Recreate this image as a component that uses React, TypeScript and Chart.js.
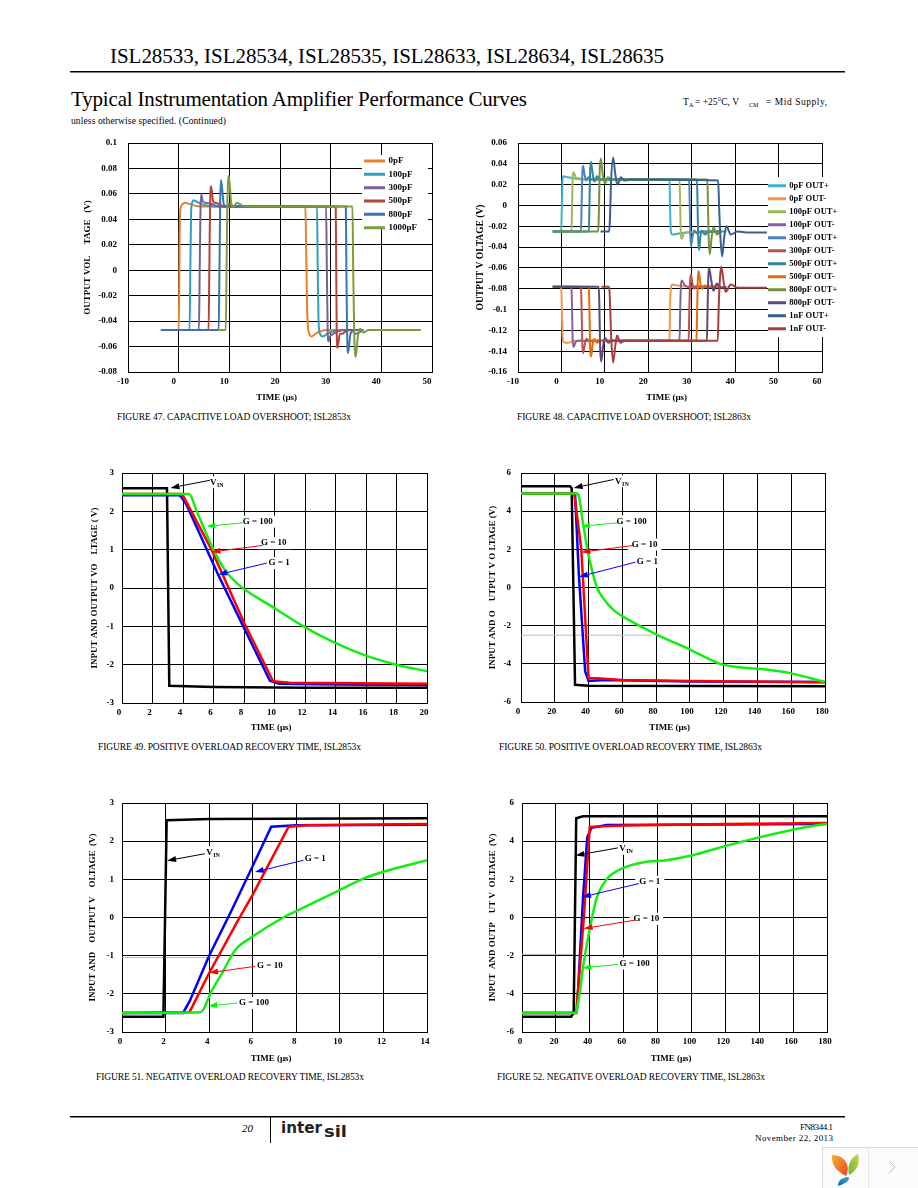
import React, { useEffect, useRef } from "react";
import { Chart, registerables } from "chart.js";

Chart.register(...registerables);

const SERIF = '"Liberation Serif", "Times New Roman", serif';

// ---------- Figure 47 ----------
const f47_0pF = [[-3.5,-.047],[0,-.047],[.1,-.02],[.2,.03],[.4,.049],[.8,.052],[1.2,.053],[2.2,.052],[3.5,.0505],[5,.05],[25,.05],[25.15,.02],[25.35,-.03],[25.7,-.049],[26.2,-.052],[27,-.05],[28,-.048],[29.5,-.047],[36,-.047]];
const f47_100pF = [[-3.5,-.047],[2.15,-.047],[2.3,0],[2.45,.045],[2.65,.053],[2.9,.055],[3.5,.054],[4.5,.052],[6,.0505],[8,.05],[27.3,.05],[27.45,0],[27.6,-.04],[27.9,-.05],[28.5,-.052],[29.3,-.05],[30.5,-.048],[32,-.047],[36,-.047]];
const f47_300pF = [[-3.5,-.047],[4,-.047],[4.15,0],[4.3,.045],[4.45,.06],[4.75,.054],[5.3,.053],[6.5,.052],[8,.05],[29.1,.05],[29.25,0],[29.4,-.045],[29.55,-.056],[29.9,-.052],[30.5,-.05],[31.5,-.048],[33,-.047],[36,-.047]];
const f47_500pF = [[-3.5,-.047],[5.9,-.047],[6.05,0],[6.2,.05],[6.4,.066],[6.8,.054],[7.2,.053],[8,.052],[9,.05],[31,.05],[31.1,0],[31.2,-.05],[31.35,-.061],[31.8,-.05],[32.2,-.05],[33,-.048],[34,-.047],[36.5,-.047]];
const f47_800pF = [[-3.5,-.047],[7.9,-.047],[8.05,0],[8.2,.055],[8.35,.071],[8.9,.052],[9.3,.05],[10,.052],[11,.05],[33,.05],[33.1,0],[33.25,-.05],[33.45,-.065],[33.9,-.05],[34.4,-.048],[35,-.05],[36,-.048],[36.5,-.047]];
const f47_1000pF = [[7.8,-.047],[9.3,-.047],[9.45,0],[9.6,.05],[9.9,.074],[10.4,.052],[10.8,.05],[11.5,.053],[12.5,.051],[14,.05],[34.3,.05],[34.45,0],[34.65,-.05],[34.95,-.068],[35.4,-.051],[35.8,-.046],[36.5,-.049],[37.5,-.047],[47.8,-.047]];

// ---------- Figure 48 ----------
const f48_0pFp = [[-2,-.025],[-.05,-.025],[.1,0],[.25,.025],[.5,.028],[1.5,.027],[3,.026],[5,.025],[24.9,.025],[25,0],[25.2,-.025],[25.5,-.028],[27,-.027],[29,-.026],[36,-.025]];
const f48_0pFm = [[-2,-.078],[-.05,-.078],[.1,-.1],[.25,-.125],[.5,-.131],[1.5,-.132],[3,-.13],[24.9,-.13],[25,-.1],[25.2,-.08],[25.5,-.076],[27,-.077],[29,-.078],[36,-.078]];
const f48_100pFp = [[-2,-.025],[2.3,-.025],[2.45,0],[2.6,.028],[2.8,.032],[3.3,.027],[4,.026],[6,.025],[27.2,.025],[27.35,0],[27.5,-.028],[27.7,-.032],[28.2,-.027],[29,-.026],[36,-.025]];
const f48_100pFm = [[-2,-.078],[2.3,-.078],[2.45,-.1],[2.6,-.13],[2.8,-.136],[3.3,-.131],[4,-.13],[27.2,-.13],[27.35,-.1],[27.5,-.078],[27.7,-.072],[28.3,-.076],[29,-.078],[36,-.078]];
const f48_300pFp = [[-2,-.025],[4.5,-.025],[4.65,0],[4.8,.03],[5,.038],[5.3,.03],[5.7,.024],[6.2,.027],[7,.025],[29.4,.025],[29.55,0],[29.7,-.03],[29.85,-.039],[30.2,-.03],[30.6,-.024],[31.2,-.027],[32,-.025],[36.5,-.025]];
const f48_300pFm = [[-2,-.078],[4.5,-.078],[4.65,-.1],[4.8,-.132],[5,-.142],[5.4,-.133],[5.8,-.128],[6.4,-.131],[7,-.13],[29.3,-.13],[29.45,-.1],[29.6,-.075],[29.8,-.066],[30.2,-.076],[30.6,-.08],[31.2,-.077],[32,-.078],[36.5,-.078]];
const f48_500pFp = [[-2,-.025],[6.3,-.025],[6.45,0],[6.6,.032],[6.8,.042],[7.2,.03],[7.6,.023],[8.2,.028],[9,.025],[31.2,.025],[31.35,0],[31.5,-.032],[31.7,-.043],[32,-.03],[32.4,-.024],[33,-.028],[34,-.025],[37,-.025]];
const f48_500pFm = [[-2,-.078],[6.3,-.078],[6.45,-.1],[6.6,-.135],[6.85,-.145],[7.2,-.133],[7.5,-.128],[8.2,-.132],[9,-.13],[31.1,-.13],[31.25,-.1],[31.4,-.072],[31.6,-.063],[32,-.075],[32.4,-.08],[33,-.077],[34,-.078],[37,-.078]];
const f48_800pFp = [[-2,-.025],[8.5,-.025],[8.65,0],[8.8,.032],[9.05,.045],[9.5,.03],[10,.021],[10.7,.027],[11.5,.025],[33.6,.025],[33.75,0],[33.9,-.03],[34.15,-.047],[34.6,-.03],[35,-.021],[35.8,-.028],[36.6,-.025],[38,-.025]];
const f48_800pFm = [[-2,-.078],[8.6,-.078],[8.75,-.1],[8.9,-.135],[9.15,-.15],[9.6,-.135],[10,-.127],[10.8,-.132],[11.5,-.13],[33.5,-.13],[33.65,-.1],[33.8,-.07],[34,-.06],[34.5,-.072],[35,-.082],[35.8,-.075],[36.6,-.079],[38,-.078]];
const f48_1nFp = [[9,-.025],[11,-.025],[11.2,-.01],[11.4,.02],[11.9,.046],[12.4,.03],[12.9,.02],[13.7,.027],[14.5,.024],[16,.025],[36.1,.024],[36.3,0],[36.6,-.03],[37,-.049],[37.5,-.03],[38,-.02],[39,-.028],[40.5,-.025],[43,-.026],[47.3,-.026]];
const f48_1nFm = [[9.2,-.078],[11,-.078],[11.2,-.095],[11.5,-.13],[11.9,-.151],[12.4,-.135],[12.8,-.125],[13.6,-.132],[14.5,-.13],[36,-.13],[36.2,-.1],[36.5,-.07],[36.8,-.059],[37.3,-.072],[37.8,-.083],[39,-.076],[40.5,-.079],[47.3,-.079]];

// ---------- Figure 49 ----------
const f49_vin = [[0,2.6],[2.95,2.6],[3.1,-2.55],[6,-2.58],[12,-2.6],[20,-2.6]];
const f49_g1 = [[0,2.42],[3.8,2.42],[4.2,2.2],[6.3,.35],[7.95,-1],[9.7,-2.42],[10.3,-2.5],[14,-2.52],[20,-2.53]];
const f49_g10 = [[0,2.45],[3.95,2.45],[5.87,1],[8,-.9],[9.9,-2.43],[11,-2.47],[20,-2.5]];
const f49_g100 = [[0,2.45],[4.4,2.45],[4.9,2],[6,1],[6.7,.5],[7.6,.1],[9.9,-.5],[11.9,-1],[13.8,-1.4],[15.9,-1.75],[18,-2],[20,-2.17]];

// ---------- Figure 50 ----------
const f50_vin = [[0,5.3],[29,5.3],[30,5.2],[32,-5.1],[40,-5.15],[180,-5.17]];
const f50_g1 = [[0,4.92],[32,4.92],[34.3,.6],[38,-4.4],[40,-4.9],[50,-4.85],[100,-4.92],[180,-4.95]];
const f50_g10 = [[0,4.92],[31.5,4.92],[35.7,2],[40,-4.75],[45,-4.75],[60,-4.85],[100,-4.9],[180,-4.97]];
const f50_g100 = [[0,4.92],[33,4.92],[34,4.85],[37,3.2],[40,1.7],[45,0],[49,-.6],[55,-1.2],[60,-1.5],[70,-2],[80,-2.45],[100,-3.25],[118,-4],[128,-4.17],[145,-4.3],[160,-4.5],[180,-4.95]];
const f50_guide = [[0,-2.5],[78,-2.5]];

// ---------- Figure 51 ----------
const f51_vin = [[0,-2.6],[1.9,-2.6],[2.05,2.55],[4,2.58],[14,2.6]];
const f51_g1 = [[0,-2.5],[2.8,-2.5],[3.1,-2.2],[4,-1],[5,.15],[6,1.35],[6.85,2.38],[8,2.42],[14,2.43]];
const f51_g10 = [[0,-2.5],[3.1,-2.48],[3.96,-1.5],[5.3,-.1],[6,.6],[7.65,2.38],[8.5,2.42],[14,2.45]];
const f51_g100 = [[0,-2.5],[3.6,-2.48],[3.75,-2.4],[4.05,-2],[4.6,-1.45],[5.2,-.85],[6,-.5],[7.4,0],[8,.17],[10,.72],[11,1],[12,1.2],[14,1.5]];
const f51_guide = [[0,-1.05],[4.5,-1.05]];

// ---------- Figure 52 ----------
const f52_vin = [[0,-5.2],[29,-5.2],[30.5,-5],[32,5.2],[36,5.3],[180,5.3]];
const f52_g1 = [[0,-5],[31,-5],[32.5,-4.8],[36,1],[38.5,4.2],[41,4.7],[50,4.85],[180,4.9]];
const f52_g10 = [[0,-5],[32,-5],[36.5,0],[40,4.75],[60,4.82],[120,4.9],[180,4.95]];
const f52_g100 = [[0,-5],[31,-5],[32,-4.9],[34,-4],[36,-2.6],[40,-.6],[44,1],[50,2],[60,2.6],[72,2.9],[85,3],[100,3.25],[120,3.75],[140,4.2],[160,4.6],[180,4.92]];
const f52_guide = [[0,-1.93],[30,-1.93]];

const BLACK = "#000000", BLUE = "#0000FF", RED = "#FF0000", GREEN = "#11EE11", GUIDE = "#BBBBBB";

const note = (text, sub, tx, ty, ax, ay, tipx, tipy, color) => ({ text, sub, tx, ty, ax, ay, tipx, tipy, color });

const overload = (vin, g1, g10, g100, guide?) => [
  ...(guide ? [{ label: "Guide", data: guide, color: GUIDE, width: 1 }] : []),
  { label: "VIN", data: vin, color: BLACK, width: 2.5 },
  { label: "G = 1", data: g1, color: BLUE, width: 2.5 },
  { label: "G = 10", data: g10, color: RED, width: 2.5 },
  { label: "G = 100", data: g100, color: GREEN, width: 2.5, smooth: true },
];

const cap = (label, data, color) => ({ label, data, color, width: 2, smooth: true });

const FIGURES = [
  {
    L: 128, R: 432, T: 143, B: 372, yw: 46, yPad: 11, xh: 31, xShift: -5, rp: 12, yFont: 9,
    x: [-10, 50, 10], y: [-0.08, 0.1, 0.02],
    yTitle: "OUTPUT VOL     TAGE   (V)",
    series: [
      cap("0pF", f47_0pF, "#E8812F"),
      cap("100pF", f47_100pF, "#31A0B8"),
      cap("300pF", f47_300pF, "#7B5EA0"),
      cap("500pF", f47_500pF, "#B5443F"),
      cap("800pF", f47_800pF, "#3B73B5"),
      cap("1000pF", f47_1000pF, "#7D9C3D"),
    ],
    legend: { x: 365, y: 161, rowH: 13.33, lineW: 19, box: [362, 155, 66, 74], size: 9 },
    notes: [],
  },
  {
    L: 518, R: 822, T: 143, B: 372, yw: 43, yPad: 11, xh: 31, xShift: -5, rp: 24, yFont: 9.5,
    x: [-10, 60, 10], y: [-0.16, 0.06, 0.02],
    yTitle: "OUTPUT V OLTAGE (V)",
    series: [
      cap("0pF OUT+", f48_0pFp, "#3FAFCF"),
      cap("0pF OUT-", f48_0pFm, "#F79646"),
      cap("100pF OUT+", f48_100pFp, "#9BBB59"),
      cap("100pF OUT-", f48_100pFm, "#8064A2"),
      cap("300pF OUT+", f48_300pFp, "#4F81BD"),
      cap("300pF OUT-", f48_300pFm, "#C0504D"),
      cap("500pF OUT+", f48_500pFp, "#31859C"),
      cap("500pF OUT-", f48_500pFm, "#E46C0A"),
      cap("800pF OUT+", f48_800pFp, "#76923C"),
      cap("800pF OUT-", f48_800pFm, "#5F497A"),
      cap("1nF OUT+", f48_1nFp, "#366092"),
      cap("1nF OUT-", f48_1nFm, "#A5403D"),
    ],
    legend: { x: 769, y: 185.7, rowH: 13, lineW: 16, box: [768, 177, 70, 160], size: 8.5 },
    notes: [],
  },
  {
    L: 122, R: 427, T: 473, B: 703, yw: 33, yPad: 8, xh: 30, xShift: -3, rp: 12, yFont: 9,
    x: [0, 20, 2], y: [-3, 3, 1],
    yTitle: "INPUT AND OUTPUT VO    LTAGE ( V)",
    series: overload(f49_vin, f49_g1, f49_g10, f49_g100),
    notes: [
      note("V", "IN", 6.24, 2.76, 5.76, 2.81, 3.18, 2.61, BLACK),
      note("G = 100", "", 8.9, 1.73, 7.95, 1.7, 5.54, 1.61, GREEN),
      note("G = 10", "", 9.95, 1.17, 9.22, 1.11, 5.87, 0.94, RED),
      note("G = 1", "", 10.3, 0.65, 9.49, 0.65, 6.31, 0.35, BLUE),
    ],
  },
  {
    L: 521, R: 825, T: 473, B: 702, yw: 34, yPad: 10, xh: 31, xShift: -3, rp: 12, yFont: 9,
    x: [0, 180, 20], y: [-6, 6, 2],
    yTitle: "INPUT AND O    UTPUT V O LTAGE (V)",
    series: overload(f50_vin, f50_g1, f50_g10, f50_g100, f50_guide),
    notes: [
      note("V", "IN", 60, 5.57, 54.9, 5.66, 31.2, 5.22, BLACK),
      note("G = 100", "", 65.5, 3.46, 57.4, 3.39, 35.7, 3.21, GREEN),
      note("G = 10", "", 73.2, 2.25, 66.3, 2.2, 35.7, 1.85, RED),
      note("G = 1", "", 74.8, 1.34, 67.9, 1.33, 34.3, 0.56, BLUE),
    ],
  },
  {
    L: 122, R: 427, T: 803, B: 1032, yw: 35, yPad: 8, xh: 32, xShift: -2, rp: 12, yFont: 9,
    x: [0, 14, 2], y: [-3, 3, 1],
    yTitle: "INPUT AND    OUTPUT V    OLTAGE  (V)",
    series: overload(f51_vin, f51_g1, f51_g10, f51_g100, f51_guide),
    notes: [
      note("V", "IN", 4.2, 1.71, 3.8, 1.67, 2.07, 1.49, BLACK),
      note("G = 1", "", 8.87, 1.55, 8.33, 1.5, 6.1, 1.19, BLUE),
      note("G = 10", "", 6.79, -1.26, 6.1, -1.28, 4, -1.45, RED),
      note("G = 100", "", 6.06, -2.24, 5.29, -2.24, 3.96, -2.32, GREEN),
    ],
  },
  {
    L: 522, R: 827, T: 803, B: 1032, yw: 35, yPad: 8, xh: 32, xShift: -2, rp: 12, yFont: 9,
    x: [0, 180, 20], y: [-6, 6, 2],
    yTitle: "INPUT  AND OUTP    UT V  OLTAGE  (V)",
    series: overload(f52_vin, f52_g1, f52_g10, f52_g100, f52_guide),
    notes: [
      note("V", "IN", 61.6, 3.6, 56.7, 3.65, 31.5, 3.25, BLACK),
      note("G = 1", "", 75.4, 1.87, 69, 1.78, 35.4, 1.07, BLUE),
      note("G = 10", "", 73.4, -0.07, 66.5, -0.14, 36.4, -0.58, RED),
      note("G = 100", "", 66.5, -2.41, 56.7, -2.46, 35.6, -2.64, GREEN),
    ],
  },
];

const PAGE_TEXT = [
  { s: "ISL28533, ISL28534, ISL28535, ISL28633, ISL28634, ISL28635", x: 110, y: 63, size: 21, w: 554 },
  { s: "Typical Instrumentation Amplifier Performance Curves", x: 71, y: 106, size: 21, w: 456 },
  { s: "unless otherwise specified. (Continued)", x: 71, y: 124, size: 9.5, w: 155 },
  { s: "T", x: 683, y: 105, size: 9.5 },
  { s: "A", x: 689, y: 107, size: 6 },
  { s: "= +25°C, V", x: 695, y: 105, size: 9.5, w: 44 },
  { s: "CM", x: 749, y: 107, size: 6 },
  { s: "= Mid Supply,", x: 766, y: 105, size: 9.5, w: 61 },
  { s: "FIGURE 47. CAPACITIVE LOAD OVERSHOOT; ISL2853x", x: 117, y: 420, size: 9.5, w: 234 },
  { s: "FIGURE 48. CAPACITIVE LOAD OVERSHOOT; ISL2863x", x: 517, y: 420, size: 9.5, w: 234 },
  { s: "FIGURE 49. POSITIVE OVERLOAD RECOVERY TIME, ISL2853x", x: 98, y: 750, size: 9.5, w: 263 },
  { s: "FIGURE 50. POSITIVE OVERLOAD RECOVERY TIME, ISL2863x", x: 499, y: 750, size: 9.5, w: 263 },
  { s: "FIGURE 51. NEGATIVE OVERLOAD RECOVERY TIME, ISL2853x", x: 96, y: 1080, size: 9.5, w: 268 },
  { s: "FIGURE 52. NEGATIVE OVERLOAD RECOVERY TIME, ISL2863x", x: 497, y: 1080, size: 9.5, w: 268 },
  { s: "FN8344.1", x: 800, y: 1130, size: 9, w: 33 },
  { s: "November 22, 2013", x: 755, y: 1141, size: 9, w: 78 },
];

const tickLabel = (v) => String(Math.round(v * 1000) / 1000);

// Room above the plot: larger than half a tick label plus the tick padding,
// so that Chart.js keeps the chart area exactly this far from the canvas top.
const TOP_GUTTER = 20;

function notesPlugin(fig) {
  const font = `bold 9px ${SERIF}`;
  return {
    id: "pageNotes",
    beforeDraw(chart) {
      const legend = chart.legend;
      if (!fig.legend || chart.$legendPlaced) return;
      chart.$legendPlaced = true;
      const base = legend.draw.bind(legend);
      legend.draw = () => {
        const ox = fig.L - fig.yw, oy = fig.T - TOP_GUTTER;
        const [bx, by, bw, bh] = fig.legend.box;
        const ctx = chart.ctx;
        ctx.save();
        ctx.fillStyle = "#fff";
        ctx.fillRect(bx - ox, by - oy, bw, bh);
        ctx.restore();
        const pad = fig.legend.rowH - fig.legend.size;
        legend.left = fig.legend.x - ox - pad;
        legend.top = fig.legend.y - oy - fig.legend.size / 2 - pad;
        legend.right = chart.width;
        legend.bottom = by - oy + bh + 20;
        base();
      };
    },
    beforeDatasetsDraw(chart) {
      const { ctx, scales } = chart;
      ctx.save();
      ctx.font = font;
      ctx.fillStyle = "#fff";
      fig.notes.forEach((n) => {
        const w = ctx.measureText(n.text).width + (n.sub ? 8 : 0);
        ctx.fillRect(scales.x.getPixelForValue(n.tx) - w / 2 - 4, scales.y.getPixelForValue(n.ty) - 6, w + 8, 12);
      });
      ctx.restore();
    },
    afterDatasetsDraw(chart) {
      const { ctx, scales } = chart;
      ctx.save();
      fig.notes.forEach((n) => {
        const ax = scales.x.getPixelForValue(n.ax), ay = scales.y.getPixelForValue(n.ay);
        const tx = scales.x.getPixelForValue(n.tipx), ty = scales.y.getPixelForValue(n.tipy);
        const a = Math.atan2(ty - ay, tx - ax);
        const bx = tx - 9 * Math.cos(a), by = ty - 9 * Math.sin(a);
        ctx.strokeStyle = n.color;
        ctx.fillStyle = n.color;
        ctx.lineWidth = 1;
        ctx.beginPath();
        ctx.moveTo(ax, ay);
        ctx.lineTo(bx, by);
        ctx.stroke();
        ctx.beginPath();
        ctx.moveTo(tx, ty);
        ctx.lineTo(bx - 3 * Math.sin(a), by + 3 * Math.cos(a));
        ctx.lineTo(bx + 3 * Math.sin(a), by - 3 * Math.cos(a));
        ctx.closePath();
        ctx.fill();
        ctx.fillStyle = "#000";
        ctx.font = font;
        ctx.textBaseline = "middle";
        ctx.textAlign = "left";
        const px = scales.x.getPixelForValue(n.tx), py = scales.y.getPixelForValue(n.ty);
        const w = ctx.measureText(n.text).width + (n.sub ? 8 : 0);
        ctx.fillText(n.text, px - w / 2, py);
        if (n.sub) {
          ctx.font = `bold 6px ${SERIF}`;
          ctx.fillText(n.sub, px - w / 2 + 7, py + 3);
        }
      });
      ctx.restore();
    },
  };
}

function buildChart(canvas, fig) {
  const n = fig.series.length;
  const scaleFont = { family: SERIF, size: 9, weight: "bold" };
  return new Chart(canvas, {
    type: "line",
    data: {
      datasets: fig.series.map((s, i) => ({
        label: s.label,
        data: s.data.map(([x, y]) => ({ x, y })),
        borderColor: s.color,
        backgroundColor: s.color,
        borderWidth: s.width,
        pointRadius: 0,
        cubicInterpolationMode: s.smooth ? "monotone" : "default",
        order: n - i,
      })),
    },
    options: {
      animation: false,
      responsive: false,
      events: [],
      layout: { padding: { top: TOP_GUTTER, right: fig.rp, left: 0, bottom: 0 } },
      plugins: {
        tooltip: { enabled: false },
        legend: fig.legend
          ? {
              display: true,
              position: "chartArea",
              align: "start",
              labels: {
                boxWidth: fig.legend.lineW,
                boxHeight: 1,
                padding: fig.legend.rowH - fig.legend.size,
                color: "#000",
                font: { family: SERIF, size: fig.legend.size, weight: "bold" },
                sort: (a, b) => a.datasetIndex - b.datasetIndex,
              },
            }
          : { display: false },
      },
      scales: {
        x: {
          type: "linear",
          min: fig.x[0],
          max: fig.x[1],
          afterFit: (s) => { s.height = fig.xh; },
          ticks: {
            stepSize: fig.x[2],
            autoSkip: false,
            maxRotation: 0,
            padding: 4,
            labelOffset: fig.xShift,
            color: "#000",
            font: scaleFont,
            callback: tickLabel,
          },
          grid: { color: "#000", lineWidth: 1, drawTicks: false },
          border: { color: "#000", width: 1 },
          title: { display: true, text: "TIME (µs)   ", color: "#000", padding: 0, font: scaleFont },
        },
        y: {
          type: "linear",
          min: fig.y[0],
          max: fig.y[1],
          afterFit: (s) => { s.width = fig.yw; },
          ticks: {
            stepSize: fig.y[2],
            autoSkip: false,
            padding: fig.yPad,
            color: "#000",
            font: scaleFont,
            callback: tickLabel,
          },
          grid: { color: "#000", lineWidth: 1, drawTicks: false },
          border: { color: "#000", width: 1 },
          title: {
            display: true,
            text: fig.yTitle,
            color: "#000",
            padding: 0,
            font: { family: SERIF, size: fig.yFont, weight: "bold" },
          },
        },
      },
    },
    plugins: [notesPlugin(fig)],
  });
}

function Figure({ fig }) {
  const ref = useRef(null);
  useEffect(() => {
    const chart = buildChart(ref.current, fig);
    return () => chart.destroy();
  }, [fig]);
  const width = fig.yw + (fig.R - fig.L) + fig.rp;
  const height = TOP_GUTTER + (fig.B - fig.T) + fig.xh;
  return (
    <canvas
      ref={ref}
      width={width}
      height={height}
      style={{ position: "absolute", left: fig.L - fig.yw, top: fig.T - TOP_GUTTER, width, height, display: "block" }}
    />
  );
}

function PageArt() {
  return (
    <svg width={918} height={1188} style={{ position: "absolute", left: 0, top: 0 }}>
      <defs>
        <linearGradient id="leafA" x1="0" y1="0" x2="1" y2="1">
          <stop offset="0" stopColor="#F7B52C" />
          <stop offset="1" stopColor="#E8402A" />
        </linearGradient>
        <linearGradient id="leafB" x1="1" y1="0" x2="0" y2="1">
          <stop offset="0" stopColor="#C6D84A" />
          <stop offset="1" stopColor="#6DB33F" />
        </linearGradient>
        <linearGradient id="leafC" x1="1" y1="0" x2="0" y2="1">
          <stop offset="0" stopColor="#35A8E0" />
          <stop offset="1" stopColor="#1560B0" />
        </linearGradient>
      </defs>
      <rect x={70} y={71} width={775} height={1.5} fill="#000" />
      <rect x={70} y={1116} width={775} height={1.5} fill="#000" />
      <rect x={270} y={1117} width={1} height={26} fill="#000" />
      {PAGE_TEXT.map((t, i) => (
        <text
          key={i}
          x={t.x}
          y={t.y}
          fontFamily={SERIF}
          fontSize={t.size}
          fill="#000"
          textLength={t.w}
          lengthAdjust={t.w ? "spacing" : undefined}
        >
          {t.s}
        </text>
      ))}
      <text x={242} y={1132} fontFamily={SERIF} fontSize={11} fontStyle="italic" fill="#000" textLength={11}>20</text>
      <text x={281} y={1133} fontFamily='"DejaVu Sans", sans-serif' fontSize={15} fontWeight="bold" fill="#222" textLength={41} lengthAdjust="spacingAndGlyphs">inter</text>
      <text x={324} y={1137} fontFamily='"DejaVu Sans", sans-serif' fontSize={15} fontWeight="bold" fill="#222" textLength={23} lengthAdjust="spacingAndGlyphs">sil</text>
      <rect x={822.5} y={1147.5} width={96} height={41} fill="#FBFBFB" stroke="#DDDDDD" />
      <line x1={868.5} y1={1148} x2={868.5} y2={1188} stroke="#E5E5E5" />
      <path d="M832 1155 C845 1155 851 1166 846 1176 C838 1172 831 1166 832 1155 Z" fill="url(#leafA)" />
      <path d="M858 1154 C861 1165 855 1172 849 1175 C847 1166 850 1158 858 1154 Z" fill="url(#leafB)" />
      <path d="M847 1177 C851 1177 850 1182 838 1186 C838 1181 841 1178 847 1177 Z" fill="url(#leafC)" />
      <path d="M889 1161 L895 1167 L889 1173" fill="none" stroke="#BBBBBB" />
    </svg>
  );
}

export default function App() {
  return (
    <div style={{ position: "absolute", left: 0, top: 0, width: 918, height: 1188, background: "#fff", overflow: "hidden" }}>
      <PageArt />
      {FIGURES.map((fig, i) => (
        <Figure key={i} fig={fig} />
      ))}
    </div>
  );
}
